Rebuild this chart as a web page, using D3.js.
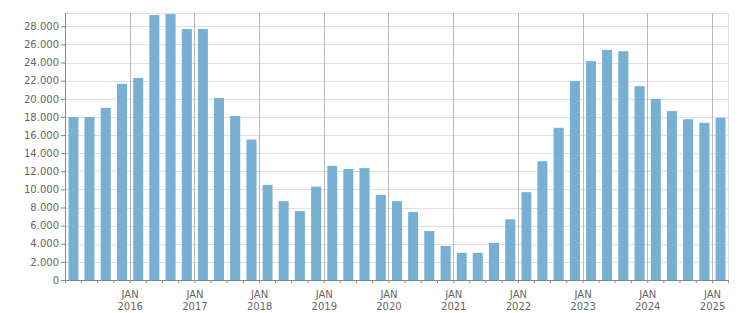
<html>
  <head>
    <meta charset="utf-8" />
    <script src="https://d3js.org/d3.v7.min.js"></script>
    <style>
      body {
        margin: 0;
        background: #fff;
      }
      .axis text,
      .year-label {
        font-family: "DejaVu Sans", sans-serif;
        font-size: 10px;
        fill: #666;
      }
      .axis path,
      .axis line {
        stroke: #888;
      }
      .hgrid line {
        stroke: #e0e0e0;
      }
      .vgrid line {
        stroke: #b8b8b8;
      }
    </style>
  </head>
  <body>
    <svg id="chart" width="751" height="313"></svg>
    <script>
      // quarter starts, one bar each
      const quarters = [
        "2015-01", "2015-04", "2015-07", "2015-10",
        "2016-01", "2016-04", "2016-07", "2016-10",
        "2017-01", "2017-04", "2017-07", "2017-10",
        "2018-01", "2018-04", "2018-07", "2018-10",
        "2019-01", "2019-04", "2019-07", "2019-10",
        "2020-01", "2020-04", "2020-07", "2020-10",
        "2021-01", "2021-04", "2021-07", "2021-10",
        "2022-01", "2022-04", "2022-07", "2022-10",
        "2023-01", "2023-04", "2023-07", "2023-10",
        "2024-01", "2024-04", "2024-07", "2024-10",
        "2025-01"
      ];
      const values = [
        18000, 18000, 19000, 21650,
        22300, 29250, 29350, 27700,
        27700, 20100, 18100, 15500,
        10500, 8700, 7600, 10300,
        12600, 12250, 12350, 9400,
        8700, 7500, 5400, 3750,
        3000, 3000, 4100, 6700,
        9700, 13100, 16800, 21950,
        24150, 25400, 25250, 21400,
        20000, 18650, 17750, 17350,
        17900
      ];
      const yTicks = [0, 2000, 4000, 6000, 8000, 10000, 12000, 14000,
        16000, 18000, 20000, 22000, 24000, 26000, 28000];
      const years = [2016, 2017, 2018, 2019, 2020, 2021, 2022, 2023, 2024, 2025];
      const monthLabel = "JAN";

      const svg = d3.select("svg#chart");
      const plotLeft = 65, plotRight = 728, plotTop = 13, plotBottom = 280;

      const parseMonth = d3.timeParse("%Y-%m");
      const data = quarters.map((q, i) => ({
        start: parseMonth(q),
        end: d3.timeMonth.offset(parseMonth(q), 3),
        value: values[i]
      }));

      const x = d3
        .scaleTime()
        .domain([parseMonth("2015-01"), parseMonth("2025-04")])
        .range([plotLeft, plotRight]);
      const y = d3.scaleLinear().domain([0, 29470]).range([plotBottom, plotTop]);

      const fmt = d3.formatLocale({
        decimal: ",",
        thousands: ".",
        grouping: [3],
        currency: ["", ""]
      }).format(",d");

      // horizontal gridlines
      svg.append("g")
        .attr("class", "hgrid")
        .selectAll("line")
        .data(yTicks.concat([y.domain()[1]]))
        .join("line")
        .attr("x1", plotLeft)
        .attr("x2", plotRight)
        .attr("y1", (d) => Math.round(y(d)) + 0.5)
        .attr("y2", (d) => Math.round(y(d)) + 0.5);

      // right border
      svg.append("line")
        .attr("x1", plotRight + 0.5)
        .attr("x2", plotRight + 0.5)
        .attr("y1", plotTop)
        .attr("y2", plotBottom)
        .attr("stroke", "#e0e0e0");

      // year gridlines
      svg.append("g")
        .attr("class", "vgrid")
        .selectAll("line")
        .data(years)
        .join("line")
        .attr("x1", (d) => Math.round(x(new Date(d, 0, 1))) + 0.5)
        .attr("x2", (d) => Math.round(x(new Date(d, 0, 1))) + 0.5)
        .attr("y1", plotTop)
        .attr("y2", plotBottom);

      // bars
      svg.append("g")
        .selectAll("rect")
        .data(data)
        .join("rect")
        .attr("x", (d) => {
          const w = x(d.end) - x(d.start);
          return x(d.start) + w * 0.19 + 0.5;
        })
        .attr("width", (d) => (x(d.end) - x(d.start)) * 0.62)
        .attr("y", (d) => y(d.value))
        .attr("height", (d) => y(0) - y(d.value))
        .attr("fill", "#77b0d3");

      // y axis
      svg.append("g")
        .attr("class", "axis")
        .attr("transform", `translate(${plotLeft},0)`)
        .call(
          d3.axisLeft(y)
            .tickValues(yTicks)
            .tickSize(4)
            .tickPadding(2)
            .tickSizeOuter(0)
            .tickFormat(fmt)
        )
        .call((g) => g.select(".domain").attr("d", `M0.5,${plotTop}V${plotBottom + 0.5}`));

      // x axis with quarterly ticks
      svg.append("g")
        .attr("class", "axis")
        .attr("transform", `translate(0,${plotBottom})`)
        .call(
          d3.axisBottom(x)
            .tickValues(data.map((d) => d.start).concat([parseMonth("2025-04")]))
            .tickSize(3)
            .tickSizeOuter(0)
            .tickFormat("")
        );

      const labels = svg.append("g")
        .selectAll("text")
        .data(years)
        .join("text")
        .attr("class", "year-label")
        .attr("text-anchor", "middle")
        .attr("x", (d) => x(new Date(d, 0, 1)) + 0.5);
      labels.append("tspan")
        .attr("y", 297.5)
        .text(monthLabel);
      labels.append("tspan")
        .attr("x", (d) => x(new Date(d, 0, 1)) + 0.5)
        .attr("y", 310)
        .text((d) => d);
    </script>
  </body>
</html>
